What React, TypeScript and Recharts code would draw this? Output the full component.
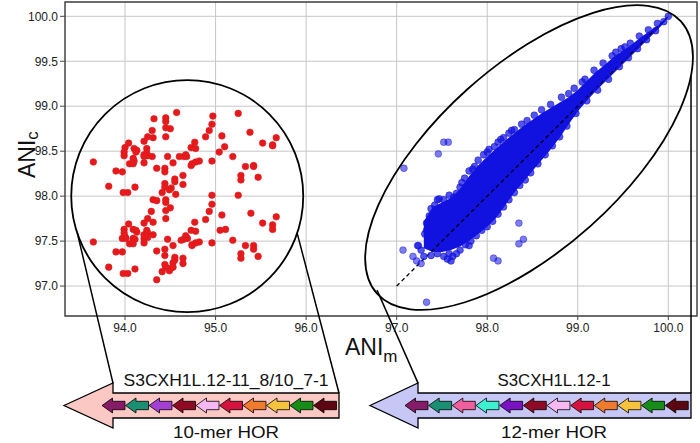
import React from 'react';
import {
  ComposedChart,
  XAxis,
  YAxis,
  CartesianGrid,
  Scatter,
  Area,
  ReferenceLine,
  ReferenceDot,
  ReferenceArea,
} from 'recharts';

const X_MIN = 93.337;
const X_MAX = 100.317;
const Y_MIN = 96.667;
const Y_MAX = 100.159;

const xTicks = [94, 95, 96, 97, 98, 99, 100];
const yTicks = [97, 97.5, 98, 98.5, 99, 99.5, 100];

// 10-mer HOR pairs (ANI_m, ANI_c)
const red10mer: [number, number][] = [
  [94.57, 98.93], [95.25, 98.92], [94.97, 98.89], [94.32, 98.86], [94.45, 98.87], [94.45, 98.83],
  [94.96, 98.8], [94.45, 98.76], [94.5, 98.75], [94.3, 98.73], [94.93, 98.73], [95.38, 98.71],
  [94.25, 98.66], [94.31, 98.65], [94.45, 98.66], [94.21, 98.61], [94.89, 98.66], [95.07, 98.67],
  [95.67, 98.65], [94.04, 98.59], [94.77, 98.6], [95.52, 98.59], [95.63, 98.57], [95.63, 98.56],
  [95.1, 98.55], [94.0, 98.54], [93.99, 98.49], [93.99, 98.45], [94.1, 98.53], [94.13, 98.51],
  [94.12, 98.49], [94.24, 98.53], [94.24, 98.48], [94.73, 98.54], [94.78, 98.53], [95.04, 98.49],
  [94.21, 98.46], [94.25, 98.45], [94.21, 98.44], [94.3, 98.44], [94.47, 98.44], [94.6, 98.44],
  [94.65, 98.44], [94.67, 98.46], [94.68, 98.44], [94.09, 98.42], [94.1, 98.39], [94.05, 98.36],
  [94.09, 98.36], [95.19, 98.44], [94.21, 98.37], [94.73, 98.34], [94.74, 98.36], [94.78, 98.38],
  [94.82, 98.39], [94.96, 98.39], [93.65, 98.38], [94.53, 98.37], [95.33, 98.33], [95.42, 98.34],
  [95.42, 98.33], [94.35, 98.31], [94.44, 98.31], [94.44, 98.27], [93.9, 98.28], [93.97, 98.27],
  [94.64, 98.23], [95.28, 98.23], [95.28, 98.18], [95.47, 98.21], [94.55, 98.19], [94.55, 98.16],
  [94.44, 98.14], [94.44, 98.1], [94.64, 98.13], [94.51, 98.09], [94.49, 98.07], [93.82, 98.11],
  [94.11, 98.1], [93.98, 98.04], [94.03, 98.04], [94.41, 98.04], [94.56, 98.02], [94.96, 98.01],
  [95.25, 98.01], [94.31, 97.96], [94.35, 97.95], [94.45, 97.96], [94.45, 97.93], [94.96, 97.91],
  [94.5, 97.87], [94.45, 97.84], [94.29, 97.83], [94.93, 97.83], [95.39, 97.81], [95.07, 97.79],
  [95.67, 97.77], [94.25, 97.75], [94.45, 97.75], [94.89, 97.74], [94.04, 97.69], [94.77, 97.71],
  [94.31, 97.71], [94.21, 97.7], [95.52, 97.7], [95.63, 97.68], [95.63, 97.63], [93.99, 97.63],
  [93.99, 97.59], [94.09, 97.63], [94.12, 97.62], [94.13, 97.6], [94.24, 97.62], [94.25, 97.59],
  [95.05, 97.62], [95.11, 97.63], [94.73, 97.62], [94.78, 97.61], [94.31, 97.57], [94.0, 97.55],
  [93.97, 97.53], [94.01, 97.53], [94.21, 97.57], [94.21, 97.53], [94.25, 97.54], [94.09, 97.53],
  [94.11, 97.52], [94.67, 97.56], [94.69, 97.53], [94.65, 97.52], [94.62, 97.51], [94.47, 97.52],
  [93.65, 97.49], [94.21, 97.48], [94.05, 97.47], [94.09, 97.47], [94.82, 97.49], [94.78, 97.48],
  [94.74, 97.46], [94.74, 97.45], [94.96, 97.48], [95.19, 97.51], [95.33, 97.45], [95.42, 97.45],
  [95.42, 97.41], [94.53, 97.45], [93.9, 97.38], [93.97, 97.38], [94.35, 97.39], [94.44, 97.41],
  [94.44, 97.34], [95.28, 97.36], [95.28, 97.31], [95.47, 97.33], [94.55, 97.32], [94.55, 97.29],
  [94.53, 97.26], [94.64, 97.31], [94.64, 97.25], [94.44, 97.24], [94.45, 97.21], [94.51, 97.2],
  [94.49, 97.17], [94.53, 97.21], [93.82, 97.21], [94.11, 97.19], [93.98, 97.14], [94.03, 97.14],
  [94.41, 97.16], [94.35, 97.07],
];

// 12-mer HOR: dense core of the cloud (lower / upper envelope)
const blueCoreX = [97.3, 97.4, 97.5, 97.6, 97.7, 97.8, 97.9, 98.0, 98.1, 98.2, 98.3, 98.4, 98.5, 98.6,
  98.7, 98.8, 98.9, 99.0, 99.1, 99.2, 99.3, 99.4, 99.5, 99.6, 99.7, 99.8, 99.9, 99.98];
const blueCoreLow = [97.42, 97.38, 97.38, 97.4, 97.44, 97.5, 97.58, 97.66, 97.76, 97.9, 98.04, 98.16, 98.28,
  98.4, 98.52, 98.65, 98.8, 98.94, 99.06, 99.17, 99.27, 99.37, 99.47, 99.57, 99.67, 99.77, 99.87, 99.96];
const blueCoreHigh = [97.72, 97.88, 97.93, 97.98, 98.08, 98.22, 98.34, 98.44, 98.53, 98.62, 98.7, 98.78, 98.85,
  98.92, 98.98, 99.04, 99.1, 99.18, 99.28, 99.38, 99.46, 99.55, 99.62, 99.69, 99.77, 99.84, 99.91, 99.99];

// 12-mer HOR: scattered points on the fringe of the cloud
const blueEdge: [number, number][] = [
  [97.24, 97.45], [97.27, 97.4], [97.3, 97.33], [97.33, 97.62], [97.33, 97.7], [97.36, 97.78],
  [97.38, 97.86], [97.42, 97.9], [97.45, 97.96], [97.47, 97.97], [97.52, 97.96], [97.56, 97.3],
  [97.6, 97.28], [97.52, 97.33], [97.45, 97.36], [97.38, 97.34], [97.66, 97.36], [97.7, 97.4],
  [97.63, 97.99], [97.66, 98.03], [97.7, 98.1], [97.75, 98.2], [97.8, 98.28], [97.86, 98.33],
  [97.9, 98.4], [97.96, 98.46], [98.02, 98.52], [98.08, 98.55], [98.12, 98.6], [98.18, 98.65],
  [98.24, 98.7], [98.3, 98.74], [98.38, 98.8], [98.44, 98.84], [98.52, 98.9], [98.6, 98.96],
  [98.7, 99.02], [98.82, 99.1], [98.96, 99.2], [99.08, 99.3], [99.18, 99.4], [99.28, 99.48],
  [99.38, 99.56], [99.48, 99.64], [99.58, 99.7], [99.68, 99.78], [99.78, 99.85], [99.88, 99.92],
  [100.0, 100.0], [97.76, 97.46], [97.82, 97.5], [97.88, 97.56], [97.94, 97.62], [98.0, 97.66],
  [98.06, 97.72], [98.12, 97.8], [98.18, 97.88], [98.24, 97.96], [98.3, 98.04], [98.36, 98.12],
  [98.42, 98.18], [98.48, 98.26], [98.56, 98.36], [98.64, 98.46], [98.72, 98.56], [98.8, 98.66],
  [98.88, 98.78], [98.98, 98.92], [99.1, 99.06], [99.22, 99.18], [99.34, 99.3], [99.46, 99.44],
  [99.56, 99.54], [99.66, 99.64], [99.76, 99.74], [99.86, 99.84], [99.95, 99.94],
  [97.58, 98.01], [97.72, 98.15], [97.84, 98.3], [98.0, 98.49], [98.15, 98.63], [98.27, 98.73],
  [97.35, 97.5], [97.31, 97.58], [97.62, 97.33], [97.8, 97.45], [97.58, 97.36], [98.9, 99.14],
  [99.05, 99.27], [99.42, 99.6], [99.52, 99.66],
];

const blueOutliers: [number, number][] = [
  [97.52, 98.6], [97.57, 98.6], [97.46, 98.47], [97.08, 98.31], [98.35, 97.7], [98.4, 97.52],
  [98.35, 97.47], [98.07, 97.31], [98.12, 97.28], [97.07, 97.4], [97.23, 97.45], [97.33, 96.82],
  [97.18, 97.33], [97.22, 97.28], [97.27, 97.25],
];

const hor10Colors = ['#861b67', '#1a8f72', '#a43fd3', '#8f0a24', '#f6b8f2', '#d4143f', '#f07a2e', '#f6c33c', '#178c17', '#5c0612'];
const hor12Colors = ['#861b67', '#1a8f72', '#ef5f9c', '#3ef0cf', '#7a12c4', '#8f0a24', '#f6b8f2', '#d4143f', '#f07a2e', '#f6c33c', '#178c17', '#5c0612'];

const redData = red10mer.map(([x, y]) => ({ x, y }));
const blueCore = blueCoreX.map((x, i) => ({ x, band: [blueCoreLow[i], blueCoreHigh[i]] }));
const blueEdgeData = blueEdge.map(([x, y]) => ({ x, y }));
const blueOutlierData = blueOutliers.map(([x, y]) => ({ x, y }));

const FONT = '"Liberation Sans", Arial, sans-serif';
const BLUE = '#1212e0';

function dot(r: number, fill: string, opacity: number) {
  return (p: any) => (
    <circle cx={p.cx} cy={p.cy} r={r} fill={fill} fillOpacity={opacity} stroke={fill}
      strokeOpacity={Math.min(1, opacity + 0.15)} strokeWidth={0.6} />
  );
}

function ellipseShape(p: any) {
  return (
    <ellipse cx={p.cx} cy={p.cy} rx={204} ry={92} transform={`rotate(-41.85 ${p.cx} ${p.cy})`}
      fill="none" stroke="#000" strokeWidth={1.8} />
  );
}

const ARROW_Y = 405.5;

function BigArrow({ tip, neck, end, fill }: { tip: number; neck: number; end: number; fill: string }) {
  const c = ARROW_Y;
  const pts = [[tip, c], [neck, c - 22.5], [neck, c - 12.5], [end, c - 12.5], [end, c + 12.5], [neck, c + 12.5], [neck, c + 22.5]];
  return <polygon points={pts.map(q => q.join(',')).join(' ')} fill={fill} stroke="#000" strokeWidth={1.3} />;
}

function Monomer({ x, fill }: { x: number; fill: string }) {
  const c = ARROW_Y;
  const pts = [[x, c], [x + 10.5, c - 7.5], [x + 10.5, c - 4.2], [x + 23, c - 4.2], [x + 23, c + 4.2], [x + 10.5, c + 4.2], [x + 10.5, c + 7.5]];
  return <polygon points={pts.map(q => q.join(',')).join(' ')} fill={fill} stroke="#000" strokeWidth={0.8} />;
}

function HorDiagram() {
  return (
    <svg width={700} height={443} style={{ position: 'absolute', left: 0, top: 0, pointerEvents: 'none' }}>
      <BigArrow tip={64} neck={113} end={339} fill="#fbc8c3" />
      {hor10Colors.map((c, i) => <Monomer key={i} x={102 + i * 23.5} fill={c} />)}
      <BigArrow tip={370} neck={418} end={691} fill="#c7c7f5" />
      {hor12Colors.map((c, i) => <Monomer key={i} x={405 + i * 23.66} fill={c} />)}
      <text x={226} y={386} fontSize={16.5} textAnchor="middle" fontFamily={FONT} fill="#111"
        textLength={205} lengthAdjust="spacingAndGlyphs">S3CXH1L.12-11_8/10_7-1</text>
      <text x={554} y={386} fontSize={16.5} textAnchor="middle" fontFamily={FONT} fill="#111"
        textLength={113} lengthAdjust="spacingAndGlyphs">S3CXH1L.12-1</text>
      <text x={226} y={438} fontSize={16.5} textAnchor="middle" fontFamily={FONT} fill="#111"
        textLength={106} lengthAdjust="spacingAndGlyphs">10-mer HOR</text>
      <text x={554} y={438} fontSize={16.5} textAnchor="middle" fontFamily={FONT} fill="#111"
        textLength={106} lengthAdjust="spacingAndGlyphs">12-mer HOR</text>
      <text x={345} y={355} fontSize={23} fontFamily={FONT} fill="#111">
        ANI<tspan fontSize={17} dy={7}>m</tspan>
      </text>
      <text transform="translate(35,178) rotate(-90)" fontSize={23} fontFamily={FONT} fill="#111">
        ANI<tspan fontSize={17} dy={3}>c</tspan>
      </text>
    </svg>
  );
}

export default function App() {
  return (
    <div style={{ position: 'absolute', left: 0, top: 0, width: 700, height: 443, background: '#fff' }}>
      <ComposedChart width={700} height={443} margin={{ top: 2, right: 3, bottom: 97, left: 0 }}>
        <CartesianGrid stroke="#c6c6c6" strokeWidth={1} />
        <XAxis type="number" dataKey="x" domain={[X_MIN, X_MAX]} ticks={xTicks} allowDataOverflow
          tickFormatter={(v: number) => v.toFixed(1)} height={30} axisLine={false}
          tickSize={4} tickMargin={3} stroke="#444" tick={{ fontSize: 12, fill: '#222', fontFamily: FONT }} />
        <YAxis type="number" dataKey="y" domain={[Y_MIN, Y_MAX]} ticks={yTicks} allowDataOverflow
          tickFormatter={(v: number) => v.toFixed(1)} width={65} axisLine={false}
          tickSize={5} tickMargin={2} stroke="#444" tick={{ fontSize: 12, fill: '#222', fontFamily: FONT }} />
        <ReferenceArea x1={X_MIN} x2={X_MAX} y1={Y_MIN} y2={Y_MAX} fill="none" stroke="#444"
          strokeWidth={1.4} ifOverflow="visible" />
        <Area data={blueCore} dataKey="band" type="linear" fill={BLUE} fillOpacity={1} stroke="none"
          isAnimationActive={false} dot={false} activeDot={false} />
        <Scatter data={blueEdgeData} shape={dot(3.4, BLUE, 0.72)} isAnimationActive={false} />
        <Scatter data={blueOutlierData} shape={dot(3.4, BLUE, 0.55)} isAnimationActive={false} />
        <Scatter data={redData} shape={dot(3.3, '#e41a1c', 1)} isAnimationActive={false} />
        <ReferenceLine segment={[{ x: 97, y: 97 }, { x: 100, y: 100 }]} stroke="#000" strokeWidth={1.3}
          strokeDasharray="4 3" ifOverflow="visible" />
        <ReferenceDot x={94.687} y={98.0} r={116} fill="none" stroke="#000" strokeWidth={1.8} ifOverflow="visible" />
        <ReferenceDot x={98.462} y={98.429} r={1} shape={ellipseShape} ifOverflow="visible" />
        <ReferenceLine segment={[{ x: 93.473, y: 97.589 }, { x: 93.867, y: 95.921 }]} stroke="#000" strokeWidth={1.5} ifOverflow="visible" />
        <ReferenceLine segment={[{ x: 95.901, y: 97.589 }, { x: 96.363, y: 95.81 }]} stroke="#000" strokeWidth={1.5} ifOverflow="visible" />
        <ReferenceLine segment={[{ x: 96.783, y: 96.955 }, { x: 97.236, y: 95.921 }]} stroke="#000" strokeWidth={1.5} ifOverflow="visible" />
        <ReferenceLine segment={[{ x: 100.251, y: 99.336 }, { x: 100.251, y: 95.81 }]} stroke="#000" strokeWidth={1.5} ifOverflow="visible" />
      </ComposedChart>
      <HorDiagram />
    </div>
  );
}
